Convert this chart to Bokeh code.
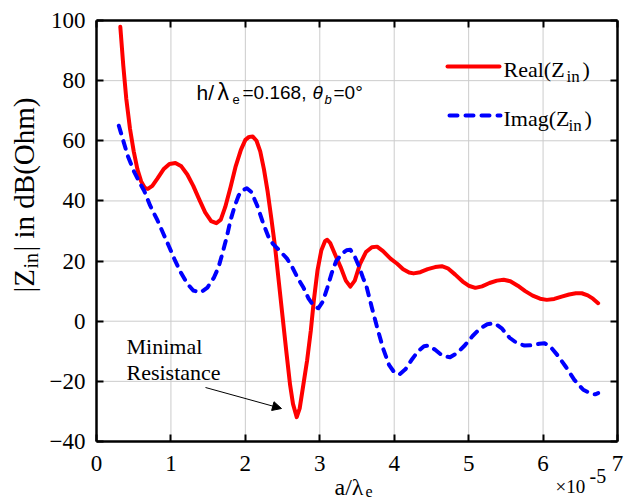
import math
from bokeh.plotting import figure
from bokeh.models import Label, Arrow, NormalHead, LinearAxis, FixedTicker, Range1d
from bokeh.embed import file_html
from bokeh.resources import INLINE

# ---- data (x in units of 1e-5) ----
real_x = [0.32, 0.36, 0.40, 0.45, 0.50, 0.55, 0.60, 0.65, 0.69, 0.75, 0.82, 0.90, 0.98, 1.06,
          1.14, 1.22, 1.30, 1.38, 1.46, 1.54, 1.61, 1.67, 1.73, 1.80, 1.87, 1.94, 2.00, 2.05,
          2.10, 2.15, 2.20, 2.25, 2.30, 2.35, 2.40, 2.45, 2.50, 2.55, 2.60, 2.64, 2.69, 2.73,
          2.78, 2.83, 2.88, 2.92, 2.97, 3.02, 3.07, 3.10, 3.14, 3.20, 3.28, 3.35, 3.41, 3.47,
          3.54, 3.62, 3.70, 3.77, 3.85, 3.95, 4.04, 4.12, 4.20, 4.26, 4.35, 4.45, 4.55, 4.64,
          4.72, 4.82, 4.92, 5.00, 5.09, 5.18, 5.28, 5.38, 5.47, 5.56, 5.66, 5.76, 5.86, 5.96,
          6.05, 6.15, 6.25, 6.35, 6.44, 6.52, 6.60, 6.67, 6.74]
real_y = [97.9, 85.0, 74.0, 64.0, 56.5, 50.5, 46.5, 44.3, 44.0, 45.0, 47.5, 50.5, 52.3, 52.6,
          51.5, 48.8, 45.0, 40.5, 36.2, 33.3, 32.6, 33.8, 38.0, 44.5, 51.5, 57.0, 60.3, 61.3,
          61.4, 60.0, 56.5, 50.5, 43.0, 34.0, 24.5, 13.0, 1.5, -10.0, -21.0, -27.5, -31.9, -29.0,
          -21.0, -13.0, -3.0, 6.9, 17.0, 23.5, 26.6, 27.1, 26.0, 22.5, 18.0, 13.5, 11.5, 13.5,
          19.0, 23.0, 24.6, 24.8, 23.3, 20.8, 19.1, 17.3, 16.2, 15.9, 16.3, 17.3, 18.0, 18.3,
          17.6, 15.5, 13.2, 11.8, 11.1, 11.6, 12.7, 13.5, 13.8, 13.3, 11.8, 10.0, 8.5, 7.5,
          7.1, 7.4, 8.2, 8.9, 9.3, 9.3, 8.6, 7.5, 6.0]

imag_x = [0.30, 0.36, 0.42, 0.50, 0.57, 0.64, 0.72, 0.82, 0.90, 0.97, 1.05, 1.13, 1.22, 1.30,
          1.40, 1.49, 1.58, 1.64, 1.69, 1.75, 1.80, 1.86, 1.91, 1.96, 2.02, 2.08, 2.16, 2.24,
          2.32, 2.37, 2.46, 2.56, 2.63, 2.70, 2.78, 2.85, 2.92, 2.98, 3.04, 3.10, 3.16, 3.22,
          3.30, 3.36, 3.41, 3.47, 3.53, 3.58, 3.63, 3.70, 3.77, 3.85, 3.93, 4.00, 4.07, 4.15,
          4.23, 4.32, 4.40, 4.46, 4.55, 4.65, 4.75, 4.85, 4.95, 5.05, 5.15, 5.25, 5.35, 5.45,
          5.55, 5.65, 5.75, 5.85, 5.95, 6.02, 6.10, 6.20, 6.31, 6.42, 6.54, 6.64, 6.70, 6.74]
imag_y = [65.0, 60.0, 55.0, 50.0, 46.5, 43.4, 38.5, 33.5, 29.0, 25.1, 20.5, 16.3, 12.5, 10.2,
          9.6, 11.2, 14.6, 18.0, 22.4, 28.0, 33.5, 38.5, 41.8, 43.5, 44.2, 43.0, 38.4, 32.5,
          27.5, 25.7, 23.5, 20.8, 18.0, 14.5, 11.2, 7.5, 5.0, 4.3, 6.5, 11.0, 16.0, 20.0,
          22.5, 23.6, 23.8, 21.5, 18.0, 14.5, 11.3, 4.5, -2.0, -9.0, -14.5, -17.0, -17.7, -16.0,
          -13.0, -10.0, -8.3, -8.1, -9.5, -11.5, -12.0, -10.5, -8.0, -5.0, -2.5, -1.0, -0.7, -2.5,
          -5.5, -7.3, -8.1, -8.0, -7.5, -7.3, -8.5, -11.5, -15.3, -19.5, -22.8, -24.0, -24.3, -23.9]

x_ticks = [0, 1, 2, 3, 4, 5, 6, 7]
y_ticks = [-40, -20, 0, 20, 40, 60, 80, 100]

# ---- geometry: where the axes box sits on the 624x499 canvas ----
W, H = 624, 499
FL, FR, FT, FB = 96, 617, 20, 441
x_lo, x_hi = x_ticks[0], x_ticks[-1]
y_lo, y_hi = y_ticks[0], y_ticks[-1]


def dx(cx):
    return x_lo + (cx - FL) * (x_hi - x_lo) / (FR - FL)


def dy(cy):
    return y_hi - (cy - FT) * (y_hi - y_lo) / (FB - FT)


# the plotting frame covers the whole canvas; the box is drawn by fixed-location axes
p = figure(width=W, height=H, x_range=Range1d(dx(0), dx(W)), y_range=Range1d(dy(H), dy(0)),
           output_backend="svg", toolbar_location=None,
           x_axis_location=None, y_axis_location=None,
           min_border=0, min_border_left=0, min_border_right=0,
           min_border_top=0, min_border_bottom=0)
p.background_fill_color = "white"
p.border_fill_color = "white"
p.outline_line_color = None
p.grid.visible = False

SERIF = "Liberation Serif"
SANS = "Liberation Sans"

# ---- grid lines at the ticks, inside the box ----
gx = x_ticks[1:-1]
gy = y_ticks[1:-1]
p.segment(x0=gx, y0=[y_lo] * len(gx), x1=gx, y1=[y_hi] * len(gx),
          line_color="#cccccc", line_width=1)
p.segment(x0=[x_lo] * len(gy), y0=gy, x1=[x_hi] * len(gy), y1=gy,
          line_color="#cccccc", line_width=1)

# ---- curves ----
p.line(real_x, real_y, line_color="#ff0000", line_width=4, line_join="round", line_cap="round")
p.line(imag_x, imag_y, line_color="#0000ff", line_width=4, line_dash="8 8",
       line_join="round", line_cap="round")

# ---- axes forming the box ----
specs = [("below", x_ticks, y_lo, (x_lo, x_hi), True),
         ("left", y_ticks, x_lo, (y_lo, y_hi), True),
         ("above", x_ticks, y_hi, (x_lo, x_hi), False),
         ("right", y_ticks, x_hi, (y_lo, y_hi), False)]
for loc, tk, fixed, bnds, labelled in specs:
    ax = LinearAxis(ticker=FixedTicker(ticks=tk), fixed_location=fixed, bounds=bnds)
    ax.axis_line_color = "black"
    ax.axis_line_width = 2.5
    ax.major_tick_in = 7
    ax.major_tick_out = 0
    ax.major_tick_line_width = 2
    ax.major_tick_line_color = "black"
    ax.minor_tick_line_color = None
    if labelled:
        ax.major_label_text_font = SERIF
        ax.major_label_text_font_style = "normal"
        ax.major_label_text_font_size = "23px"
        ax.major_label_text_color = "black"
        ax.major_label_standoff = 14 if loc == "below" else 11
    else:
        ax.major_label_overrides = {t: "" for t in tk}
        ax.major_label_text_font_size = "8px"
        ax.major_label_standoff = 0
    p.add_layout(ax, loc)


def txt(s, cx, cy, size, font=SERIF, style="normal", angle=0.0):
    # (cx, cy) is the intended baseline start on the canvas; Bokeh anchors the
    # bottom of the text box there, so lift the anchor by the font's descent.
    d = 0.25 * size
    if angle:
        cx -= d
    else:
        cy -= d
    p.add_layout(Label(x=dx(cx), y=dy(cy), text=s, text_font=font,
                       text_font_size=f"{size}px", text_font_style=style,
                       text_align="left", text_baseline="alphabetic", angle=angle,
                       text_color="black"))


# ---- legend (manual, to allow subscripts) ----
p.add_layout(Arrow(x_start=dx(447), y_start=dy(66), x_end=dx(499), y_end=dy(66),
                   start=None, end=None, line_color="#ff0000", line_width=4, line_cap="round"))
p.add_layout(Arrow(x_start=dx(449), y_start=dy(115), x_end=dx(500), y_end=dy(115),
                   start=None, end=None, line_color="#0000ff", line_width=4,
                   line_dash="8 8", line_cap="round"))
txt("Real(Z", 503, 74, 22)
txt("in", 566, 80, 17)
txt(")", 582, 74, 22)
txt("Imag(Z", 503, 123, 22)
txt("in", 568, 129, 17)
txt(")", 584, 123, 22)

# ---- parameter annotation ----
txt("h/", 196, 97, 21, font=SANS)
txt("λ", 217, 97, 23, font=SANS)
txt("e", 232, 102, 13, font=SANS)
txt("=0.168,", 242, 97, 19, font=SANS)
txt("θ", 312, 97, 19, font=SANS, style="italic")
txt("b", 324, 102, 13, font=SANS, style="italic")
txt("=0°", 333, 97, 19, font=SANS)

# ---- minimal resistance callout ----
txt("Minimal", 126, 351, 22)
txt("Resistance", 126, 377, 22)
p.add_layout(Arrow(x_start=dx(205), y_start=dy(387), x_end=dx(281), y_end=dy(408),
                   line_color="black", line_width=1,
                   end=NormalHead(size=9, fill_color="black", line_color="black")))

# ---- axis titles and exponent ----
txt("a/λ", 334, 492, 24)
txt("e", 365, 495, 16)
txt("×10", 555, 491, 19)
txt("-5", 589, 480, 20)

A = math.pi / 2
txt("|Z", 31, 292, 29, angle=A)
txt("in", 35, 268, 20, angle=A)
txt("| in dB(Ohm)", 31, 251, 29, angle=A)

open("out.html", "w").write(file_html(p, INLINE))
